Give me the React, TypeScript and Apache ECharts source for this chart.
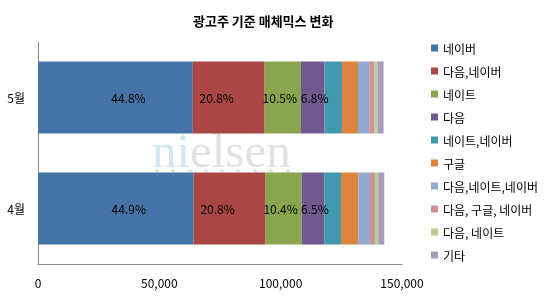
import React, { useEffect, useRef } from "react";
import * as echarts from "echarts";

const categories = ["4월", "5월"];
const seriesNames = [
  "네이버",
  "다음,네이버",
  "네이트",
  "다음",
  "네이트,네이버",
  "구글",
  "다음,네이트,네이버",
  "다음, 구글, 네이버",
  "다음, 네이트",
  "기타",
];
// values per series: [4월, 5월]
const naver = [64100, 63800];
const daumNaver = [29700, 29600];
const nate = [14850, 14950];
const daum = [9300, 9700];
const nateNaver = [6900, 7200];
const google = [7150, 6600];
const daumNateNaver = [4800, 4600];
const daumGoogleNaver = [2050, 2200];
const daumNate = [1350, 1350];
const others = [2500, 2400];
const seriesValues = [
  naver,
  daumNaver,
  nate,
  daum,
  nateNaver,
  google,
  daumNateNaver,
  daumGoogleNaver,
  daumNate,
  others,
];
const xTicks = [0, 50000, 100000, 150000];

const colors = [
  "#4572A7",
  "#AA4643",
  "#89A54E",
  "#71588F",
  "#4198AF",
  "#DB843D",
  "#93A9CF",
  "#D19392",
  "#B9CD96",
  "#A99BBD",
];
const labelOffsets = [13, -12, -3, 2];

export default function App() {
  const ref = useRef<HTMLDivElement>(null);
  useEffect(() => {
    if (!ref.current) return;
    const chart = echarts.init(ref.current, null, { renderer: "svg" });
    const totals = categories.map((_, i) =>
      seriesValues.reduce((s, arr) => s + arr[i], 0)
    );
    const font = "'Noto Sans CJK KR', 'Noto Sans', sans-serif";
    const dotXs = [157, 173, 190, 206, 222, 238, 255, 271, 288];
    chart.setOption({
      animation: false,
      textStyle: { fontFamily: font },
      title: {
        text: "광고주 기준 매체믹스 변화",
        left: 188,
        top: 9,
        textStyle: { fontSize: 13, fontWeight: "bold", color: "#000", fontFamily: font },
      },
      graphic: [
        {
          type: "text",
          left: 152,
          top: 126,
          z: -10,
          silent: true,
          style: {
            text: "ni",
            font: "49px 'Liberation Serif', serif",
            fill: "#cfe7f2",
          },
        },
        {
          type: "text",
          left: 190,
          top: 126,
          z: -10,
          silent: true,
          style: {
            text: "elsen",
            font: "49px 'Liberation Serif', serif",
            fill: "#e2e2e2",
          },
        },
        ...dotXs.map((x) => ({
          type: "circle",
          silent: true,
          z: -10,
          shape: { cx: x, cy: 171, r: 2 },
          style: { fill: "#e3e3e3" },
        })),
      ],
      legend: {
        orient: "vertical",
        left: 426,
        top: 36,
        itemWidth: 7,
        itemHeight: 7,
        itemGap: 9,
        icon: "rect",
        textStyle: { fontSize: 12, color: "#000", lineHeight: 14, fontFamily: font },
        data: seriesNames,
      },
      grid: { left: 38, right: 142, top: 42, bottom: 36 },
      xAxis: {
        type: "value",
        min: 0,
        max: 150000,
        interval: 50000,
        splitLine: { show: false },
        axisLine: { show: true, lineStyle: { color: "#868686" } },
        axisTick: { show: false },
        axisLabel: {
          color: "#000",
          fontSize: 12,
          margin: 12,
          formatter: (v: number) =>
            xTicks.includes(v) ? v.toLocaleString("en-US") : "",
        },
      },
      yAxis: {
        type: "category",
        data: categories,
        axisLine: { show: true, lineStyle: { color: "#868686" } },
        axisTick: { show: false },
        axisLabel: { color: "#000", fontSize: 12, margin: 13 },
      },
      series: seriesNames.map((name, si) => ({
        type: "bar",
        name,
        stack: "total",
        barCategoryGap: "35%",
        itemStyle: { color: colors[si] },
        data: seriesValues[si],
        label: {
          show: si < 4,
          position: "inside",
          offset: [labelOffsets[si] ?? 0, 0],
          color: "#000",
          fontSize: 12,
          fontFamily: font,
          formatter: (p: any) =>
            ((p.value / totals[p.dataIndex]) * 100).toFixed(1) + "%",
        },
      })),
    });
    return () => chart.dispose();
  }, []);
  return (
    <div
      ref={ref}
      style={{ position: "fixed", left: 0, top: 0, width: 544, height: 300 }}
    />
  );
}
